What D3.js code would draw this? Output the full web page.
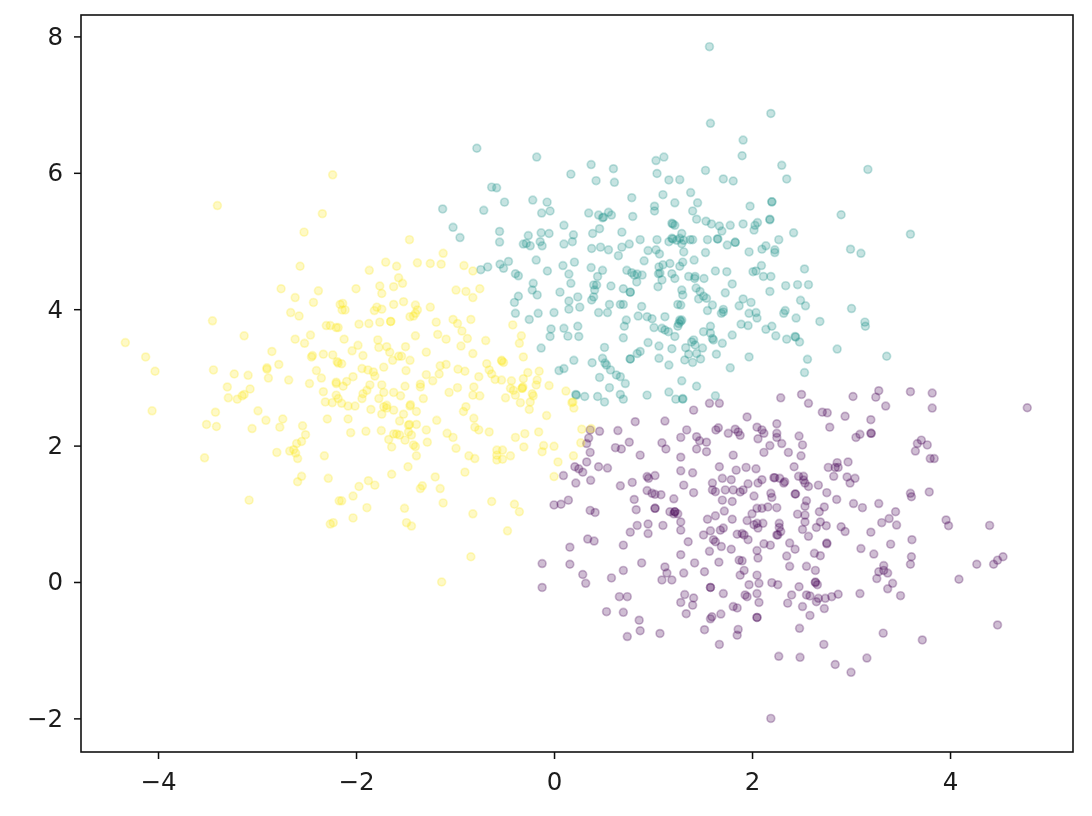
<!DOCTYPE html>
<html>
<head>
<meta charset="utf-8">
<script src="https://cdn.jsdelivr.net/npm/d3@7/dist/d3.min.js"></script>
<style>
html,body{margin:0;padding:0;background:#fff;}
svg{display:block;}
</style>
</head>
<body>
<div id="chart"></div>
<script>
const xTicks = [-4,-2,0,2,4];
const yTicks = [-2,0,2,4,6,8];
const xDomain = [-4.778,5.242];
const yDomain = [-2.493,8.314];
const clusterColors = ["#440154","#21918c","#fde725"];

const purple = [[1.41,2.52],[1.57,2.62],[1.67,2.62],[.82,2.35],[1.12,2.36],[1.95,2.42],[.365,2.23],[.46,2.21],[.645,2.22],[1.34,2.23],[1.66,2.26],[1.635,2.23],[1.83,2.24],[1.86,2.20],[1.88,2.15],[1.76,2.18],[2.05,2.27],[2.10,2.23],[2.12,2.18],[2.06,2.10],[2.25,2.32],[2.25,2.18],[2.25,2.12],[1.28,2.12],[1.44,2.13],[1.47,2.07],[1.54,2.05],[.35,2.11],[.33,2.03],[.365,1.90],[.76,2.05],[.62,1.97],[.68,1.95],[1.09,2.04],[1.13,1.95],[1.44,1.95],[1.54,1.91],[.87,1.86],[1.28,1.83],[1.81,1.86],[2.12,1.90],[2.18,2.0],[.33,1.76],[.21,1.69],[.25,1.66],[.29,1.61],[.45,1.69],[.54,1.67],[.095,1.56],[.22,1.45],[.37,1.49],[.67,1.41],[.79,1.46],[.94,1.545],[.955,1.52],[1.02,1.56],[1.28,1.63],[1.40,1.60],[1.67,1.69],[1.84,1.64],[1.94,1.68],[2.04,1.66],[1.70,1.52],[1.79,1.50],[1.60,1.45],[1.31,1.42],[1.41,1.31],[1.60,1.35],[1.63,1.325],[1.73,1.35],[1.81,1.35],[1.88,1.32],[1.91,1.35],[1.96,1.44],[2.10,1.50],[2.06,1.45],[2.22,1.53],[2.28,1.52],[2.19,1.30],[2.20,1.24],[2.02,1.26],[.94,1.34],[.99,1.30],[1.02,1.285],[1.08,1.28],[1.21,1.22],[.81,1.21],[1.70,1.20],[1.80,1.18],[.83,1.06],[1.02,1.08],[1.02,1.08],[1.17,1.03],[1.22,1.03],[1.22,1.03],[1.25,1.0],[1.21,1.0],[.365,1.05],[.415,1.02],[.0,1.13],[.07,1.14],[.145,1.20],[1.72,1.04],[1.63,.97],[1.55,.92],[1.80,.92],[2.0,1.0],[2.05,1.08],[2.10,1.08],[2.16,1.10],[1.95,.90],[2.25,1.09],[1.28,.88],[1.28,.76],[.95,.85],[.95,.71],[.84,.83],[.77,.73],[1.10,.83],[1.58,.75],[1.68,.76],[1.71,.79],[2.02,.84],[2.05,.86],[2.06,.79],[2.11,.86],[1.51,.69],[1.61,.62],[1.63,.59],[1.85,.70],[1.90,.71],[1.92,.69],[1.96,.62],[2.25,.69],[.34,.63],[.405,.60],[1.355,.59],[.16,.51],[.70,.54],[1.69,.52],[1.79,.48],[2.12,.56],[2.185,.54],[2.05,.46],[1.57,.45],[1.28,.40],[1.87,.32],[1.90,.31],[2.06,.35],[1.42,.28],[1.665,.29],[.885,.28],[.16,.26],[-.12,.27],[1.12,.22],[1.14,.13],[1.09,.03],[1.19,.03],[.70,.17],[1.31,.13],[1.52,.15],[.29,.11],[.58,.06],[1.92,.17],[1.88,.10],[2.05,.10],[-.12,-.08],[.32,-.02],[.66,-.215],[.74,-.215],[.53,-.435],[.70,-.445],[.86,-.56],[.87,-.715],[.74,-.80],[1.07,-.755],[1.32,-.185],[1.41,-.235],[1.28,-.30],[1.40,-.34],[1.335,-.465],[1.58,-.08],[1.58,-.08],[1.71,-.17],[1.97,-.04],[2.07,-.02],[2.05,-.17],[2.07,-.30],[1.93,-.19],[1.95,-.215],[1.81,-.36],[1.85,-.38],[1.685,-.47],[1.595,-.51],[1.58,-.54],[2.05,-.52],[2.05,-.52],[1.52,-.70],[1.86,-.695],[1.85,-.78],[1.67,-.915],[2.27,-1.09],[2.19,-2.0],[2.20,-.01],[2.26,-.04],[2.29,2.70],[2.50,2.75],[2.57,2.62],[3.02,2.72],[3.28,2.805],[3.25,2.71],[3.60,2.79],[3.82,2.77],[3.82,2.55],[3.35,2.58],[4.78,2.555],[2.71,2.49],[2.76,2.48],[2.94,2.43],[3.20,2.38],[2.785,2.27],[2.30,2.03],[2.475,2.14],[2.51,2.01],[3.20,2.18],[3.205,2.18],[3.09,2.165],[3.05,2.12],[2.367,1.90],[2.495,1.85],[3.71,2.08],[3.67,2.03],[3.65,1.92],[3.77,2.01],[3.80,1.81],[3.84,1.81],[2.425,1.69],[2.97,1.76],[2.86,1.75],[2.84,1.68],[2.87,1.68],[2.77,1.68],[2.825,1.55],[2.47,1.55],[2.52,1.55],[2.52,1.495],[2.96,1.54],[3.04,1.52],[2.99,1.45],[2.23,1.53],[2.33,1.47],[2.32,1.45],[2.57,1.40],[2.67,1.42],[2.535,1.45],[2.755,1.31],[2.435,1.29],[2.44,1.29],[3.60,1.30],[3.61,1.25],[3.79,1.32],[2.855,1.21],[3.025,1.15],[3.115,1.09],[3.28,1.15],[2.55,1.19],[2.535,1.11],[2.73,1.10],[2.68,1.03],[2.46,.995],[2.535,.98],[3.45,1.03],[3.385,.93],[3.31,.87],[3.46,.835],[2.69,.88],[2.65,.80],[2.75,.825],[2.535,.88],[2.51,.77],[2.275,.86],[2.275,.80],[2.26,.69],[2.29,.74],[3.96,.91],[3.985,.825],[4.40,.83],[2.90,.81],[2.94,.74],[3.20,.73],[2.57,.67],[2.38,.57],[2.435,.48],[2.755,.57],[2.755,.56],[3.615,.62],[3.40,.555],[3.10,.49],[3.23,.41],[2.63,.42],[2.69,.385],[2.35,.38],[3.61,.37],[3.60,.26],[2.38,.23],[2.55,.23],[2.64,.17],[4.27,.26],[4.535,.37],[4.48,.32],[4.44,.26],[3.33,.24],[3.33,.17],[3.28,.15],[3.37,.13],[3.26,.05],[4.09,.04],[2.64,-.01],[2.64,0],[2.66,-.04],[2.475,-.07],[2.40,-.19],[3.09,-.17],[3.42,-.02],[3.37,-.10],[3.50,-.20],[2.36,-.31],[2.55,-.19],[2.585,-.205],[2.67,-.24],[2.65,-.29],[2.74,-.24],[2.805,-.215],[2.87,-.18],[2.51,-.36],[2.73,-.39],[2.585,-.49],[2.48,-.68],[3.325,-.75],[3.72,-.85],[4.48,-.63],[2.725,-.915],[2.485,-1.105],[3.16,-1.115],[2.84,-1.21],[3.00,-1.325]];

const teal = [[-.78,6.36],[-.175,6.23],[.17,5.98],[.375,6.12],[.60,6.06],[.425,5.885],[.61,5.86],[1.03,6.18],[1.11,6.23],[1.04,5.99],[1.16,5.895],[1.27,5.90],[-.63,5.79],[-.58,5.78],[-.50,5.57],[-.215,5.60],[-.07,5.57],[-1.125,5.47],[-.71,5.45],[-.125,5.41],[-.04,5.44],[.35,5.41],[.45,5.38],[.50,5.35],[.49,5.34],[.55,5.42],[.58,5.38],[.795,5.36],[.785,5.635],[1.10,5.68],[1.015,5.51],[1.015,5.44],[1.22,5.56],[.10,5.23],[-1.02,5.20],[-.95,5.05],[-.55,5.14],[-.55,4.985],[-.26,5.08],[-.13,5.12],[-.05,5.11],[-.31,4.955],[-.28,4.965],[-.24,4.93],[-.14,4.99],[-.12,4.93],[.10,4.955],[.185,4.99],[.196,5.09],[.39,5.11],[.46,5.18],[.685,5.13],[.87,5.02],[1.19,5.26],[1.20,5.25],[1.22,5.23],[1.04,5.02],[1.19,5.04],[1.20,5.03],[1.24,5.01],[1.16,4.99],[1.27,5.04],[.38,4.89],[.47,4.91],[.55,4.87],[.76,4.955],[.685,4.91],[.65,4.785],[.95,4.86],[1.03,4.87],[1.065,4.81],[.91,4.71],[-.18,4.72],[.206,4.69],[.09,4.64],[.15,4.515],[.375,4.61],[.49,4.57],[.44,4.48],[-.067,4.56],[-.74,4.58],[-.67,4.62],[-.545,4.66],[-.51,4.60],[-.46,4.70],[-.39,4.52],[-.36,4.49],[.735,4.57],[.785,4.535],[.84,4.515],[.89,4.50],[.81,4.50],[1.06,4.62],[1.055,4.52],[1.10,4.65],[1.17,4.67],[1.27,4.63],[1.19,4.52],[-.21,4.38],[-.22,4.28],[-.17,4.21],[-.36,4.19],[-.40,4.10],[-.39,3.94],[-.25,3.85],[-.16,3.94],[.0,3.95],[.06,4.25],[.15,4.12],[.15,4.0],[.24,4.18],[.26,4.03],[.17,4.38],[-.03,3.71],[-.04,3.60],[.10,3.72],[.14,3.605],[.24,3.75],[.25,3.60],[-.13,3.43],[.20,3.25],[.05,3.10],[.10,3.13],[.225,2.74],[1.57,7.85],[1.58,6.725],[2.19,6.87],[1.91,6.48],[1.90,6.25],[1.53,6.035],[2.30,6.11],[2.35,5.91],[3.17,6.05],[1.71,5.91],[1.81,5.88],[1.38,5.71],[1.45,5.56],[1.40,5.44],[1.44,5.32],[1.535,5.29],[1.59,5.25],[1.67,5.22],[1.695,5.145],[1.78,5.23],[1.98,5.51],[2.20,5.575],[2.20,5.575],[2.18,5.32],[2.18,5.31],[1.91,5.25],[2.055,5.27],[2.03,5.23],[2.02,5.16],[2.90,5.385],[3.60,5.10],[2.42,5.12],[2.27,5.02],[1.375,5.02],[1.40,5.02],[1.55,5.02],[1.65,5.03],[1.655,5.03],[1.75,4.94],[1.83,4.98],[1.83,4.98],[1.29,5.11],[1.31,5.01],[1.29,4.96],[1.31,4.84],[1.30,4.69],[1.415,4.72],[1.53,4.83],[1.97,4.84],[2.10,4.88],[2.14,4.93],[2.23,4.87],[2.23,4.83],[2.995,4.88],[3.10,4.82],[2.095,4.64],[2.01,4.55],[2.04,4.56],[1.63,4.56],[1.745,4.55],[2.53,4.59],[2.115,4.48],[2.19,4.48],[1.36,4.48],[1.425,4.48],[1.42,4.45],[1.515,4.45],[1.80,4.37],[2.34,4.345],[2.46,4.36],[2.57,4.36],[2.18,4.26],[1.73,4.24],[1.29,4.28],[1.30,4.21],[1.475,4.26],[1.51,4.19],[1.54,4.16],[1.46,4.15],[1.435,4.31],[1.60,4.06],[1.91,4.15],[1.99,4.10],[1.87,4.05],[2.49,4.13],[2.54,4.05],[1.55,3.98],[1.71,3.997],[1.69,3.94],[1.71,3.96],[1.97,3.94],[2.04,3.95],[2.05,3.87],[2.335,3.98],[2.32,3.94],[3.005,4.01],[2.445,3.87],[2.685,3.82],[3.14,3.81],[3.145,3.75],[1.29,3.84],[1.28,3.82],[1.28,4.06],[1.89,3.78],[1.96,3.76],[1.58,3.75],[1.51,3.67],[1.58,3.65],[1.60,3.57],[1.61,3.55],[1.80,3.62],[2.20,3.75],[2.14,3.705],[2.24,3.61],[2.35,3.56],[2.435,3.60],[2.44,3.59],[2.48,3.52],[1.41,3.55],[1.39,3.52],[1.425,3.475],[1.70,3.50],[1.50,3.43],[1.33,3.435],[1.36,3.34],[1.44,3.35],[1.64,3.34],[1.97,3.30],[1.48,3.27],[1.32,3.255],[1.40,3.22],[2.86,3.415],[3.36,3.31],[2.56,3.265],[1.78,3.14],[2.53,3.07],[1.29,2.95],[1.44,2.87],[1.63,2.73],[1.30,2.68],[.45,3.95],[.54,3.95],[.56,4.07],[.40,4.355],[.43,4.355],[.41,4.28],[.38,4.135],[.40,4.18],[.575,4.34],[.70,4.30],[.77,4.25],[.77,4.25],[.67,4.07],[.70,4.07],[.885,4.04],[.85,3.90],[.94,3.89],[.99,3.86],[.73,3.84],[.71,3.75],[1.01,3.73],[1.12,3.89],[1.27,3.84],[1.26,3.79],[1.25,3.75],[1.09,3.72],[1.12,3.695],[1.155,3.67],[1.22,3.60],[1.25,4.07],[1.22,4.45],[1.07,4.53],[1.05,4.33],[1.09,4.43],[.835,4.40],[.70,3.58],[.95,3.51],[1.06,3.46],[1.19,3.42],[.87,3.38],[.84,3.35],[.77,3.27],[.77,3.27],[1.06,3.28],[1.16,3.18],[.51,3.44],[.385,3.215],[.49,3.28],[.515,3.21],[.53,3.18],[.57,3.11],[.63,3.035],[.67,3.01],[.72,2.91],[.46,3.0],[.56,2.85],[.67,2.75],[.70,2.68],[.44,2.72],[.51,2.64],[.22,2.75],[.31,2.72],[.94,2.74],[1.16,2.785],[1.23,2.68],[1.30,2.69]];

const yellow = [[-2.236,5.97],[-3.40,5.52],[-2.34,5.40],[-2.525,5.13],[-2.565,4.63],[-2.757,4.30],[-2.38,4.27],[-2.615,4.17],[-2.43,4.10],[-2.66,3.95],[-2.575,3.90],[-3.45,3.83],[-2.30,3.76],[-2.26,3.76],[-2.20,3.73],[-2.18,3.73],[-2.16,4.07],[-2.14,3.99],[-3.13,3.61],[-2.46,3.62],[-2.615,3.56],[-2.52,3.50],[-4.33,3.51],[-2.85,3.38],[-4.125,3.30],[-2.45,3.30],[-2.44,3.32],[-2.33,3.34],[-2.235,3.33],[-4.03,3.09],[-4.06,2.51],[-3.44,3.11],[-3.23,3.05],[-3.09,3.03],[-2.90,3.12],[-2.90,3.14],[-2.885,2.99],[-2.78,3.19],[-2.68,2.96],[-2.47,2.91],[-2.40,3.10],[-2.35,2.99],[-3.30,2.86],[-3.07,2.83],[-3.29,2.70],[-3.20,2.68],[-3.15,2.73],[-3.13,2.75],[-3.42,2.49],[-2.99,2.51],[-2.91,2.37],[-2.74,2.39],[-2.77,2.27],[-3.05,2.25],[-3.51,2.31],[-3.41,2.28],[-2.54,2.29],[-2.29,2.39],[-2.33,2.79],[-2.20,2.91],[-2.20,2.93],[-2.20,2.74],[-2.31,2.64],[-2.24,2.63],[-2.18,2.69],[-2.19,3.23],[-2.18,3.21],[-2.51,2.16],[-2.60,2.03],[-2.55,2.06],[-2.67,1.92],[-2.63,1.94],[-2.61,1.89],[-2.80,1.90],[-2.59,1.81],[-2.32,1.85],[-3.53,1.82],[-2.55,1.55],[-2.59,1.47],[-2.28,1.52],[-3.08,1.20],[-2.17,1.19],[-2.26,.85],[-2.23,.87],[-1.46,5.02],[-1.12,4.82],[-1.866,4.57],[-1.70,4.69],[-1.59,4.63],[-1.38,4.68],[-1.25,4.67],[-1.14,4.66],[-.91,4.64],[-.82,4.56],[-1.57,4.46],[-1.53,4.38],[-1.62,4.33],[-1.76,4.34],[-1.74,4.23],[-2.00,4.30],[-.99,4.28],[-.89,4.26],[-.75,4.30],[-.82,4.17],[-2.135,4.085],[-2.11,3.99],[-1.79,4.03],[-1.815,3.98],[-1.74,4.00],[-1.62,4.07],[-1.52,4.11],[-1.40,4.06],[-1.38,3.99],[-1.40,3.94],[-1.455,3.89],[-1.42,3.90],[-1.25,4.03],[-1.19,3.81],[-1.02,3.85],[-.975,3.79],[-.84,3.85],[-1.97,3.78],[-1.87,3.79],[-1.76,3.81],[-1.65,3.82],[-1.65,3.82],[-.93,3.68],[-1.175,3.63],[-1.09,3.56],[-.875,3.57],[-.94,3.46],[-1.40,3.61],[-.417,3.77],[-.33,3.61],[-.35,3.50],[-.69,3.54],[-2.12,3.56],[-1.78,3.55],[-1.77,3.44],[-1.69,3.45],[-1.98,3.47],[-2.04,3.39],[-1.93,3.32],[-1.50,3.45],[-1.66,3.37],[-1.57,3.31],[-1.54,3.31],[-1.63,3.25],[-1.455,3.25],[-1.29,3.37],[-.82,3.35],[-.31,3.30],[-.527,3.24],[-.51,3.22],[-.53,3.25],[-.68,3.20],[-2.145,3.20],[-1.72,3.15],[-1.94,3.13],[-1.88,3.11],[-1.825,3.08],[-1.81,3.02],[-1.495,3.10],[-1.15,3.17],[-1.09,3.19],[-1.16,3.05],[-1.29,3.04],[-.97,3.12],[-.90,3.09],[-.655,3.11],[-.63,3.05],[-.595,2.97],[-.53,2.96],[-.76,3.01],[-1.225,2.95],[-.15,3.09],[-.265,3.07],[-.31,2.98],[-.17,2.96],[-.18,2.89],[-.43,2.95],[-.325,2.84],[-.32,2.84],[-.315,2.86],[-.44,2.84],[-.05,2.88],[.12,2.80],[-2.03,3.01],[-2.095,2.94],[-2.13,2.87],[-1.86,2.89],[-1.89,2.81],[-1.93,2.76],[-1.94,2.69],[-1.74,2.89],[-1.72,2.78],[-1.62,2.78],[-1.55,2.73],[-1.505,2.87],[-1.35,2.90],[-1.35,2.86],[-1.32,2.69],[-.975,2.85],[-1.06,2.78],[-.81,2.86],[-.82,2.74],[-.75,2.73],[-.49,2.70],[-.39,2.74],[-.41,2.81],[-.22,2.76],[-.21,2.73],[-.34,2.63],[-.24,2.64],[-.25,2.53],[.18,2.63],[.19,2.64],[.20,2.55],[-.075,2.44],[-2.145,2.62],[-2.08,2.58],[-2.01,2.58],[-1.85,2.53],[-1.77,2.69],[-1.72,2.57],[-1.69,2.59],[-1.69,2.55],[-1.74,2.46],[-1.62,2.52],[-1.52,2.46],[-1.455,2.58],[-1.45,2.60],[-1.39,2.50],[-2.08,2.39],[-1.56,2.36],[-1.47,2.30],[-1.46,2.31],[-1.39,2.31],[-1.185,2.37],[-.81,2.40],[-.915,2.50],[-.89,2.57],[-.80,2.27],[-2.054,2.19],[-1.90,2.21],[-1.745,2.22],[-1.67,2.09],[-1.62,2.17],[-1.59,2.17],[-1.56,2.155],[-1.64,1.98],[-1.505,2.08],[-1.44,2.155],[-1.47,2.20],[-1.42,2.01],[-1.40,1.985],[-1.39,1.85],[-1.28,2.05],[-1.29,2.23],[-1.475,1.69],[-1.64,1.58],[-1.08,2.18],[-1.02,2.12],[-.99,1.96],[-.76,2.23],[-.655,2.20],[-.39,2.12],[-.295,2.175],[-.155,2.20],[-.305,1.98],[-.105,2.00],[-.12,1.91],[-.00,1.99],[.28,2.24],[.375,2.25],[.27,2.04],[.196,1.85],[.04,1.76],[0,1.545],[-.86,1.85],[-.80,1.81],[-.578,1.935],[-.578,1.86],[-.578,1.79],[-.52,1.935],[-.52,1.80],[-.44,1.85],[-.90,1.61],[-1.20,1.54],[-1.15,1.37],[-1.35,1.37],[-1.33,1.41],[-1.875,1.485],[-1.81,1.42],[-1.97,1.40],[-2.03,1.26],[-2.145,1.19],[-1.89,1.09],[-2.03,.94],[-1.51,1.08],[-1.12,1.16],[-1.49,.87],[-1.44,.82],[-.82,1.0],[-.63,1.18],[-.40,1.14],[-.35,1.03],[-.47,.75],[-.84,.37],[-1.135,0.0]];

const clusters = [purple, teal, yellow];

const width = 1092, height = 816;
const plot = {left:81, right:1073, top:15, bottom:752};

const x = d3.scaleLinear().domain(xDomain).range([plot.left, plot.right]);
const y = d3.scaleLinear().domain(yDomain).range([plot.bottom, plot.top]);

const svg = d3.select("#chart").append("svg")
  .attr("width", width).attr("height", height)
  .attr("viewBox", `0 0 ${width} ${height}`);

const defs = svg.append("defs");
[["soft",0.65],["softText",0.35]].forEach(([id,sd]) => {
  defs.append("filter").attr("id",id)
    .attr("filterUnits","userSpaceOnUse")
    .attr("x",-width).attr("y",-height).attr("width",3*width).attr("height",3*height)
    .append("feGaussianBlur").attr("stdDeviation",sd);
});

const points = svg.append("g").attr("filter","url(#soft)");
clusters.forEach((pts,i) => {
  points.append("g").selectAll("circle").data(pts).join("circle")
    .attr("cx", d => x(d[0]))
    .attr("cy", d => y(d[1]))
    .attr("r", 3.9)
    .attr("fill", clusterColors[i])
    .attr("fill-opacity", 0.26)
    .attr("stroke", clusterColors[i])
    .attr("stroke-opacity", 0.26)
    .attr("stroke-width", 1.7);
});

const axisFont = "'DejaVu Sans', sans-serif";
const xAxis = svg.append("g").attr("transform",`translate(0,${plot.bottom})`).attr("filter","url(#softText)")
  .call(d3.axisBottom(x).tickValues(xTicks).tickFormat(d3.format("d")).tickSize(7).tickPadding(14));
const yAxis = svg.append("g").attr("transform",`translate(${plot.left},0)`).attr("filter","url(#softText)")
  .call(d3.axisLeft(y).tickValues(yTicks).tickFormat(d3.format("d")).tickSize(7).tickPadding(11));
[xAxis,yAxis].forEach(a => {
  a.select(".domain").remove();
  a.selectAll("line").attr("stroke","#111").attr("stroke-width",1.5);
  a.selectAll("text").attr("fill","#1a1a1a").style("font-family",axisFont).style("font-size","24.5px");
});

svg.append("rect")
  .attr("x",plot.left).attr("y",plot.top)
  .attr("width",plot.right-plot.left).attr("height",plot.bottom-plot.top)
  .attr("fill","none").attr("stroke","#111").attr("stroke-width",1.6);
</script>
</body>
</html>
